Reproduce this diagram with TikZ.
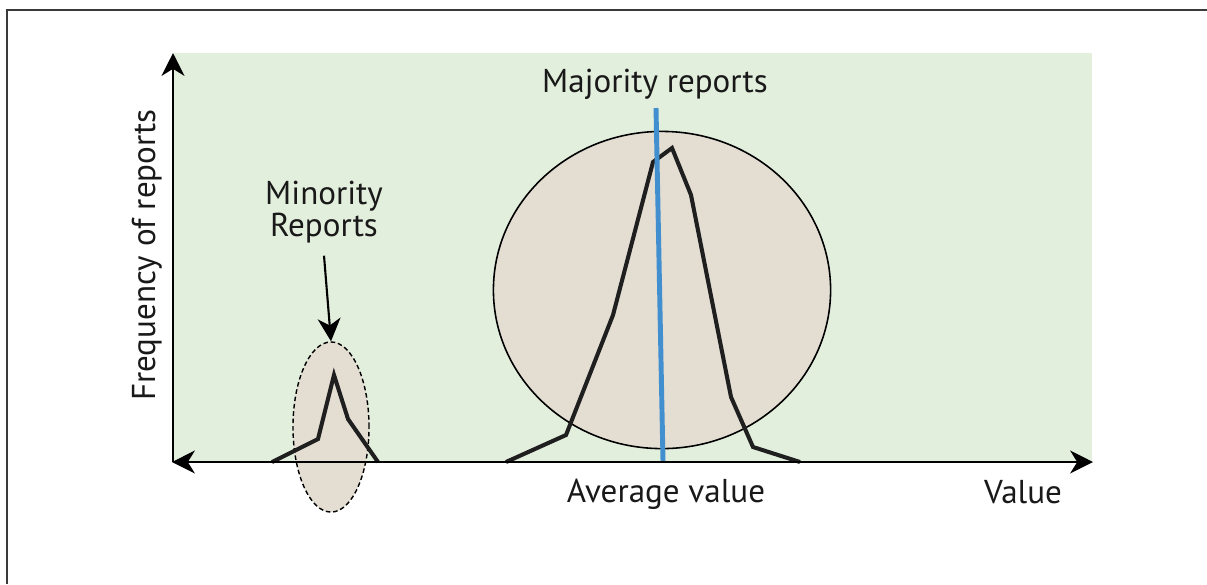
\documentclass[tikz,border=0pt]{standalone}
\usepackage{fontspec}
\setmainfont{PT Sans}
\usetikzlibrary{arrows.meta,shapes.geometric}

\definecolor{plotbg}{HTML}{E3EFDD}
\definecolor{blobfill}{HTML}{E3DDD2}
\definecolor{meanblue}{HTML}{428FD0}
\definecolor{framegray}{HTML}{3A3A3A}

\tikzset{
  axis/.style={line width=0.6pt, -{Stealth[length=6.5pt,width=6.5pt,inset=2pt]}},
  distcurve/.style={line width=1.15pt, line join=miter, black!88},
  lbl/.style={font=\fontsize{9.4}{9.1}\selectfont, inner sep=0pt, text=black!90}
}

\begin{document}
\begin{tikzpicture}[x=0.01cm,y=-0.01cm]
  \useasboundingbox (0,0) rectangle (1207,584);
  % frame and plot area
  \draw[framegray, line width=0.6pt] (7,584) -- (7,10) -- (1207,10);
  \fill[plotbg] (173,53) rectangle (1092,462);

  % report clusters
  \node[ellipse, draw, dash pattern=on 1.3pt off 0.8pt, fill=blobfill, line width=0.4pt,
        minimum width=0.76cm, minimum height=1.7cm, inner sep=0pt] (minority) at (331,427) {};
  \node[ellipse, draw, fill=blobfill, line width=0.45pt,
        minimum width=3.37cm, minimum height=3.17cm, inner sep=0pt] (majority) at (662,290) {};

  % frequency curves
  \draw[distcurve] (272,462) -- (318,439) -- (334,375) -- (348,419) -- (378,462);
  \draw[distcurve] (506,462) -- (566,435) -- (613,315) -- (653,162) -- (672,148)
    -- (691,195) -- (731,397) -- (753,447) -- (800,462);

  % average value
  \coordinate (meantop) at (656,108);
  \coordinate (meanbot) at (663,462);
  \draw[meanblue, line width=1.4pt] (meantop) -- (meanbot);

  % axes
  \coordinate (origin) at (173,462);
  \coordinate (ytop) at (173,53);
  \coordinate (xleft) at (172,462);
  \coordinate (xright) at (1093,462);
  \draw[axis] (origin) -- (ytop);
  \draw[axis, {Stealth[length=6.5pt,width=6.5pt,inset=2pt]}-{Stealth[length=6.5pt,width=6.5pt,inset=2pt]}] (xleft) -- (xright);

  % labels
  \node[lbl, anchor=base] (majlabel) at (655,92) {Majority reports};
  \node[lbl, anchor=base, rotate=90] (ylabel) at (155,255) {Frequency of reports};
  \node[lbl, align=center] (minlabel) at (324,212) {Minority\\Reports};
  \node[lbl, anchor=base] (avglabel) at (666,502) {Average value};
  \node[lbl, anchor=base] (xlabel) at (1023,503) {Value};

  \draw[line width=0.6pt, -{Stealth[length=6.5pt,width=6.5pt,inset=2pt]}]
    ([yshift=-0.12cm]minlabel.south) -- (minority.north);
\end{tikzpicture}
\end{document}
